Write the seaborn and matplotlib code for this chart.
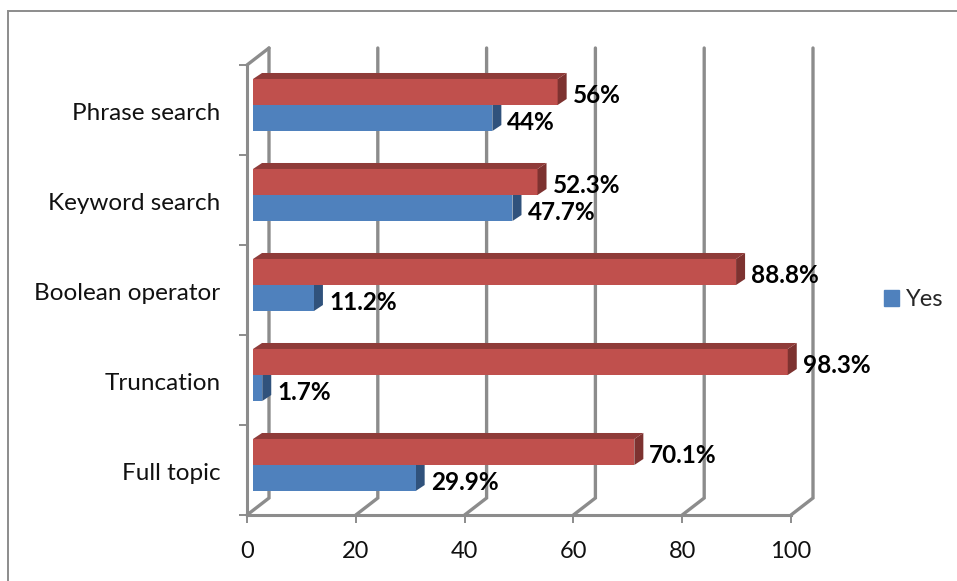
"""3D-look bar chart of search techniques, Yes/No percentages"""
import pandas as pd
import matplotlib
matplotlib.use("Agg")
import matplotlib.pyplot as plt
from matplotlib.patches import Polygon, Rectangle
from matplotlib.transforms import ScaledTranslation
import seaborn as sns

categories = ["Phrase search", "Keyword search", "Boolean operator", "Truncation", "Full topic"]
yes_values = [44, 47.7, 11.2, 1.7, 29.9]
no_values = [56, 52.3, 88.8, 98.3, 70.1]
x_ticks = [0, 20, 40, 60, 80, 100]

BLUE, BLUE_DARK = "#4f81bd", "#30527c"
RED, RED_DARK, RED_TOP = "#c0504d", "#7d3230", "#8f3b39"
GREY = "#8c8c8c"

sns.set_theme(style="white")
plt.rcParams["font.family"] = ["Lato", "DejaVu Sans"]

fig = plt.figure(figsize=(9.57, 5.81), dpi=100)
W, H = 957, 581
ax = fig.add_axes([247 / W, 1 - 515 / H, 544 / W, 450 / H])

df = pd.DataFrame({
    "category": categories * 2,
    "value": no_values + yes_values,
    "answer": ["No"] * 5 + ["Yes"] * 5,
})
sns.barplot(data=df, y="category", x="value", hue="answer", order=categories,
            hue_order=["No", "Yes"], palette={"No": RED, "Yes": BLUE},
            width=0.578, dodge=True, saturation=1, legend=False, ax=ax,
            zorder=3, linewidth=0)

ax.set_xlim(0, 100)
ax.set_ylim(4.5, -0.5)
ax.set_xlabel("")
ax.set_ylabel("")
sns.despine(ax=ax, top=True, right=True)
for side in ["left", "bottom"]:
    ax.spines[side].set_color(GREY)
    ax.spines[side].set_linewidth(2.2)
    ax.spines[side].set_zorder(1)

# pixels to data units
px_x = 100 / 544
px_y = 5 / 450

# back wall grid, joined to the front axis by the floor diagonal
wall_dx, wall_dy = 22 * px_x, 17 * px_y
for v in x_ticks:
    ax.plot([v, v + wall_dx, v + wall_dx], [4.5, 4.5 - wall_dy, -0.5 - wall_dy],
            color=GREY, lw=2.4, clip_on=False, zorder=1, solid_joinstyle="miter")
ax.plot([0, wall_dx], [-0.5, -0.5 - wall_dy], color=GREY, lw=2.4, clip_on=False, zorder=1)

ax.set_xticks(x_ticks)
ax.set_yticks([i + 0.5 for i in range(-1, 5)], minor=True)
ax.set_yticks(range(5))
ax.set_yticklabels(categories, fontsize=17.5, color="#111111")
ax.set_xticklabels([str(v) for v in x_ticks], fontsize=17, color="#111111")
ax.tick_params(axis="x", which="major", length=6, width=1.4, color=GREY, bottom=True, pad=13)
ax.tick_params(axis="y", which="major", length=0, pad=19)
ax.tick_params(axis="y", which="minor", length=6, width=1.4, color=GREY, left=True)
for label in ax.get_yticklabels():
    label.set_transform(label.get_transform() + ScaledTranslation(0, -0.02, fig.dpi_scale_trans))

# extrude every bar and move it off the axis
shift_x, shift_y = 6 * px_x, 5 * px_y
depth_x, depth_y = 9 * px_x, 6 * px_y
for n, (container, values) in enumerate(zip(ax.containers[:2], [no_values, yes_values])):
    is_red = n == 0
    for bar, v in zip(container, values):
        bar.set_x(bar.get_x() + shift_x)
        bar.set_y(bar.get_y() - shift_y)
        x0, y0 = bar.get_x(), bar.get_y()
        x1, y1 = x0 + bar.get_width(), y0 + bar.get_height()
        # blue side slides behind the red bar above it
        ax.add_patch(Polygon([(x1, y0), (x1 + depth_x, y0 - depth_y),
                              (x1 + depth_x, y1 - depth_y), (x1, y1)],
                             color=RED_DARK if is_red else BLUE_DARK, lw=0, clip_on=False,
                             zorder=3 if is_red else 2.5))
        if is_red:
            ax.add_patch(Polygon([(x0, y0), (x0 + depth_x, y0 - depth_y),
                                  (x1 + depth_x, y0 - depth_y), (x1, y0)],
                                 color=RED_TOP, lw=0, clip_on=False, zorder=3))
        ax.annotate(f"{v:g}%", (x1, (y0 + y1) / 2), xytext=(15, -4),
                    textcoords="offset pixels", va="center", ha="left",
                    fontsize=17.5, fontweight="bold", color="black",
                    annotation_clip=False, zorder=5)

# legend only lists the first series in the reference
handle = Rectangle((0, 0), 1, 1, color=BLUE)
fig.legend([handle], ["Yes"], loc="center left", bbox_to_anchor=(884 / W, 1 - 300 / H),
           frameon=False, fontsize=17, handlelength=0.63, handleheight=0.63,
           handletextpad=0.3, borderpad=0, borderaxespad=0)

# chart area border
fig.add_artist(Rectangle((8 / W, -0.01), (W - 2) / W, 1 - 11 / H + 0.01, transform=fig.transFigure,
                         fill=False, edgecolor=GREY, lw=1.4))

fig.savefig("out.png", dpi=100)
